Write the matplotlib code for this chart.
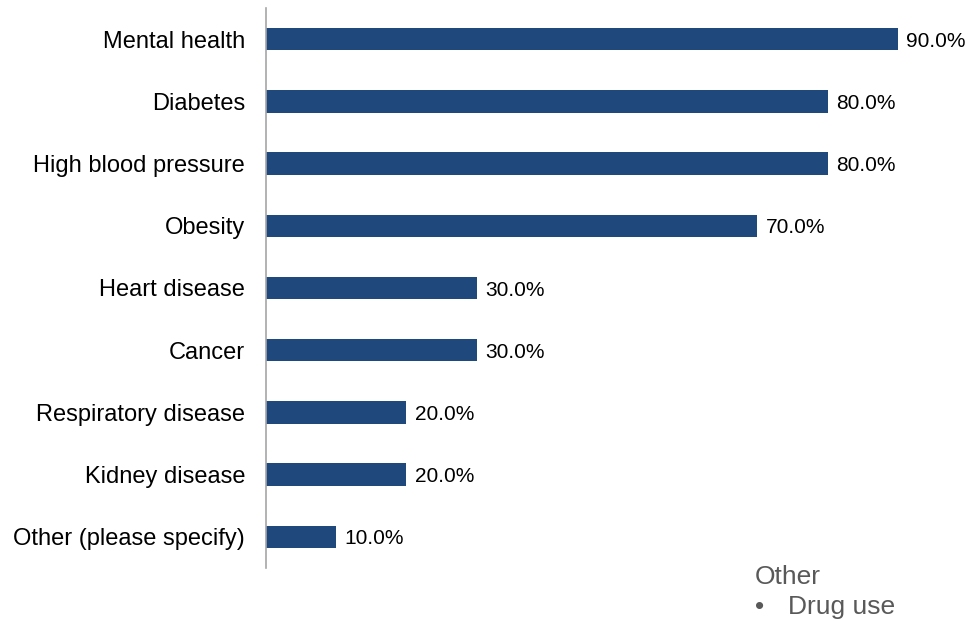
import matplotlib.pyplot as plt

plt.rcParams['font.family'] = ['Liberation Sans', 'DejaVu Sans']

# Data
categories = ['Mental health', 'Diabetes', 'High blood pressure', 'Obesity',
              'Heart disease', 'Cancer', 'Respiratory disease', 'Kidney disease',
              'Other (please specify)']
values = [90.0, 80.0, 80.0, 70.0, 30.0, 30.0, 20.0, 20.0, 10.0]
other_title = 'Other'
other_items = ['Drug use']

W, H = 971, 621
fig = plt.figure(figsize=(W / 100, H / 100), dpi=100)
ax = fig.add_axes([266 / W, 1 - 568 / H, (968 - 266) / W, (568 - 8) / H])

pos = list(range(len(categories)))
bars = ax.barh(pos, values, height=0.36, color='#1F497D')
ax.set_yticks(pos)
ax.set_yticklabels(categories, fontsize=17, color='black', va='center_baseline')
ax.set_ylim(len(categories) - 0.5, -0.5)
ax.set_xlim(0, 100)
ax.set_xticks([])
ax.tick_params(axis='y', length=0, pad=15)

for s in ['top', 'right', 'bottom']:
    ax.spines[s].set_visible(False)
ax.spines['left'].set_color('#A6A6A6')
ax.spines['left'].set_linewidth(1.2)

for b, v in zip(bars, values):
    ax.annotate(f'{v:.1f}%', (b.get_width(), b.get_y() + b.get_height() / 2),
                xytext=(6, 0), textcoords='offset points',
                va='center_baseline', ha='left', fontsize=15, color='black')

# side note
fig.text(755 / W, 1 - 584 / H, other_title, fontsize=19, color='#595959', va='baseline')
for i, item in enumerate(other_items):
    yb = 1 - (614 + i * 32) / H
    fig.text(755 / W, yb, '\u2022', fontsize=19, color='#595959', va='baseline')
    fig.text(788 / W, yb, item, fontsize=19, color='#595959', va='baseline')

fig.savefig('out.png', dpi=100)
